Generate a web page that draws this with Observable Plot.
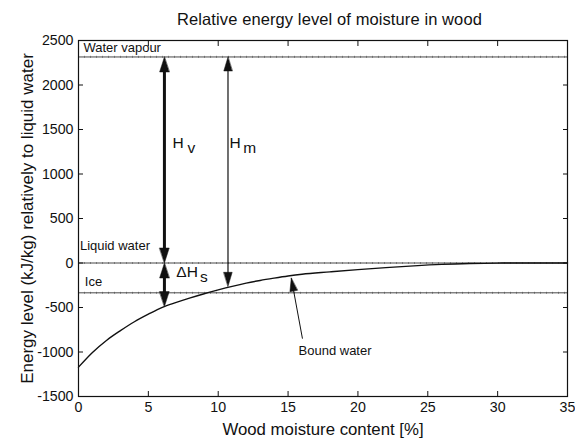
<!DOCTYPE html>
<html><head><meta charset="utf-8">
<script src="https://cdn.jsdelivr.net/npm/d3@7"></script>
<script src="https://cdn.jsdelivr.net/npm/@observablehq/plot@0.6"></script>
<style>
body{margin:0;background:#fff;font-family:"Liberation Sans",Arial,sans-serif;}
#title{height:26px;box-sizing:border-box;padding-top:11px;margin-left:92px;margin-right:8px;text-align:center;font-size:16.5px;letter-spacing:0.1px;line-height:1;color:#111;white-space:nowrap;}
</style></head><body>
<div id="title">Relative energy level of moisture in wood</div>
<div id="chart"></div>
<script>
// bound water curve
const moisture = [0,1,2,3,4,5,6,7,8,9,10,11,12,13,14,15,16,18,20,22,24,26,28,30,32,35];
const energy   = [-1170,-1005,-870,-760,-660,-575,-498,-443,-392,-345,-302,-262,-226,-196,-170,-146,-126,-100,-75,-52,-32,-16,-6,-1,0,0];
// energy levels
const levelNames  = ["Water vapour","Liquid water","Ice"];
const levelValues = [2315, 0, -335];
const levelLabelX = [0.35, 0.1, 0.45];
const levelLabelY = [2420, 197, -208];
// ticks
const xTicks = [0,5,10,15,20,25,30,35];
const yTicks = [-1500,-1000,-500,0,500,1000,1500,2000,2500];
// arrows (double-headed): x, top, bottom, weight
const arrowX      = [6.15, 6.15, 10.7];
const arrowTop    = [2315, 0, 2315];
const arrowBottom = [0, -490, -262];
const arrowWidth  = [3, 3, 1.2];
// symbol labels
const symMain = ["H","ΔH","H"];
const symSub  = ["v","s","m"];
const symX    = [6.73, 7.0, 10.8];
const symSubX = [7.8, 8.7, 11.8];
const symY    = [1346, -107, 1346];
// bound water pointer
const boundLabel = "Bound water";
const boundLabelX = 15.75, boundLabelY = -985;
const pointerFrom = [16.03, -850];
const pointerTo   = [15.23, -171];

const curve = moisture.map((m,i)=>({m, e: energy[i]}));
const levels = levelNames.map((n,i)=>({n, v: levelValues[i], lx: levelLabelX[i], ly: levelLabelY[i]}));
const arrows = arrowX.map((x,i)=>({x, top: arrowTop[i], bottom: arrowBottom[i], w: arrowWidth[i]}));
const heads = [];
arrows.forEach(a=>{
  heads.push({x:a.x, y:a.top, rot:0, w:a.w});
  heads.push({x:a.x, y:a.bottom, rot:180, w:a.w});
});
const syms = symMain.map((s,i)=>({s, sub: symSub[i], x: symX[i], sx: symSubX[i], y: symY[i]}));

const headShape = {draw(context, l, r){ context.moveTo(0,-l); context.lineTo(-r,0); context.lineTo(r,0); context.closePath(); }};

const chart = Plot.plot({
  width: 575, height: 416,
  marginTop: 14, marginBottom: 46, marginLeft: 78, marginRight: 8,
  style: {fontFamily: '"Liberation Sans", Arial, sans-serif', fontSize: "14px", color: "#111", background: "#fff"},
  x: {domain: [0,35]},
  y: {domain: [-1500,2500]},
  marks: [
    // levels
    Plot.ruleY(levels, {y: "v", stroke: "#aaa", strokeWidth: 2.2, strokeDasharray: "1,5"}),
    Plot.ruleY(levels, {y: "v", stroke: "#333", strokeWidth: 0.9}),
    Plot.text(levels, {x: "lx", y: "ly", text: "n", textAnchor: "start", fontSize: 13, fill: "#111"}),
    // curve
    Plot.line(curve, {x: "m", y: "e", curve: "monotone-x", stroke: "#111", strokeWidth: 1.4}),
    // arrow shafts
    Plot.ruleX(arrows, {x: "x", y1: "top", y2: "bottom", strokeWidth: "w", stroke: "#111", insetTop: 9, insetBottom: 9}),
    Plot.vector(heads.filter(h=>h.w>2), {x: "x", y: "y", rotate: "rot", length: 15, r: 4.8, anchor: "end", shape: headShape, fill: "#111", stroke: "#111", strokeWidth: 0.5}),
    Plot.vector(heads.filter(h=>h.w<=2), {x: "x", y: "y", rotate: "rot", length: 14, r: 4.2, anchor: "end", shape: headShape, fill: "#111", stroke: "#111", strokeWidth: 0.5}),
    // symbols
    Plot.text(syms, {x: "x", y: "y", text: "s", textAnchor: "start", fontSize: 15.5, fill: "#111"}),
    Plot.text(syms, {x: "sx", y: "y", text: "sub", textAnchor: "start", fontSize: 15.5, fill: "#111", dy: 5}),
    // bound water pointer
    Plot.link([{x1: pointerFrom[0], y1: pointerFrom[1], x2: pointerTo[0], y2: pointerTo[1]}], {x1: "x1", y1: "y1", x2: "x2", y2: "y2", stroke: "#111", strokeWidth: 1}),
    Plot.vector([{x: pointerTo[0], y: pointerTo[1]}], {x: "x", y: "y", rotate: -10.5, length: 13, r: 3.8, anchor: "end", shape: headShape, fill: "#111", stroke: "#111", strokeWidth: 0.5}),
    Plot.text([boundLabel], {x: boundLabelX, y: boundLabelY, text: d => d, textAnchor: "start", fontSize: 13, fill: "#111"}),
    // axes
    Plot.axisX({ticks: xTicks, tickFormat: d => String(d), tickSize: 0, tickPadding: 5, fontSize: 14.2, label: "Wood moisture content [%]", labelAnchor: "center", labelArrow: "none", labelOffset: 38}),
    Plot.axisX({ticks: xTicks, tickSize: -5, text: null, label: null}),
    Plot.axisX({anchor: "top", ticks: xTicks, tickSize: -5, text: null, label: null}),
    Plot.axisY({ticks: yTicks, tickFormat: d => String(d), tickSize: 0, tickPadding: 5, fontSize: 14.2, label: "Energy level (kJ/kg) relatively to liquid water", labelAnchor: "center", labelArrow: "none", labelOffset: 58}),
    Plot.axisY({ticks: yTicks, tickSize: -5, text: null, label: null}),
    Plot.axisY({anchor: "right", ticks: yTicks, tickSize: -5, text: null, label: null}),
    Plot.frame({stroke: "#111", strokeWidth: 1.2})
  ]
});
const labs = chart.querySelectorAll("g[aria-label$='axis label'] text");
labs.forEach(t=>t.setAttribute("font-size","16.8"));
chart.querySelectorAll("g[aria-label='y-axis label'] text").forEach(t=>t.setAttribute("font-size","17"));
document.getElementById("chart").appendChild(chart);
</script>
</body></html>
